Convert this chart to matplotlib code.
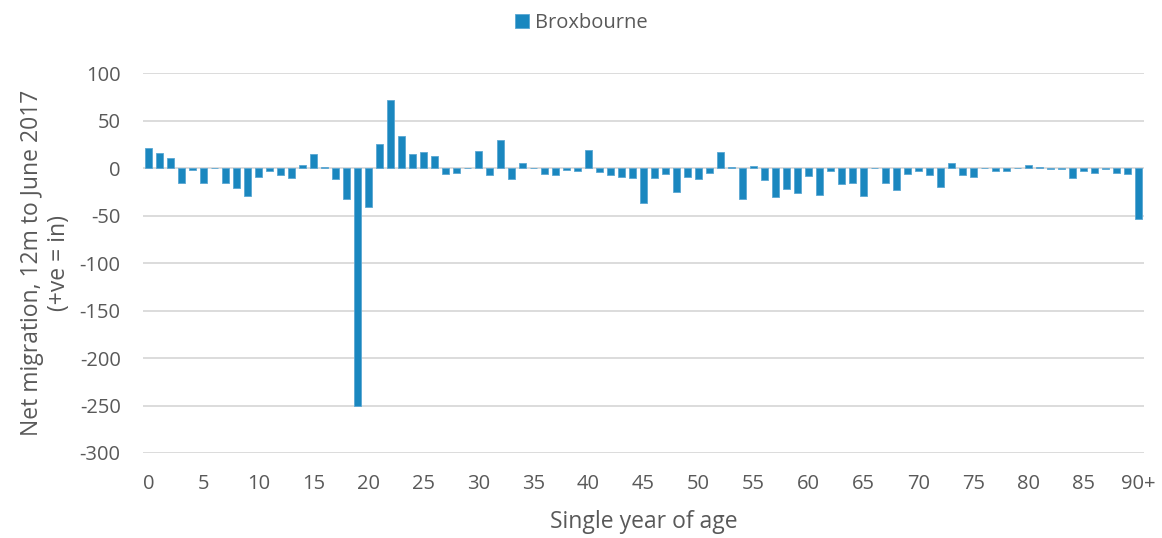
import numpy as np
import matplotlib.pyplot as plt

plt.rcParams['font.family'] = ['Open Sans', 'DejaVu Sans']
plt.rcParams['axes.unicode_minus'] = False

# Net migration by single year of age, Broxbourne
ages = list(range(91))
age_labels = [str(a) if a % 5 == 0 else "" for a in ages]
age_labels[90] = "90+"

net_migration = [
    21, 16, 11, -16, -2, -16, 0, -16, -21, -29,     # 0-9
    -9, -3, -7, -10, 3, 15, 1, -11, -33, -250,      # 10-19
    -41, 25, 72, 34, 15, 17, 13, -6, -5, 0,         # 20-29
    18, -7, 30, -11, 5, 0, -6, -7, -2, -3,          # 30-39
    19, -4, -7, -9, -10, -37, -10, -6, -25, -9,     # 40-49
    -11, -5, 17, 1, -32, 2, -12, -30, -22, -26,     # 50-59
    -8, -28, -3, -17, -16, -29, 0, -16, -23, -6,    # 60-69
    -3, -7, -20, 5, -7, -9, 0.5, -3, -3, 0,         # 70-79
    3, 1, -1, -1, -10, -3, -5, -1, -5, -6,          # 80-89
    -54,                                            # 90+
]

BAR_COLOUR = "#1A87BF"
GRID_COLOUR = "#D9D9D9"
TEXT_COLOUR = "#595959"

fig = plt.figure(figsize=(11.62, 5.38), dpi=100)
ax = fig.add_axes([0.123, 0.158, 0.8615, 0.706])

ax.bar(ages, net_migration, 0.65, color=BAR_COLOUR, edgecolor="#5AA7D3",
       linewidth=0.6, label="Broxbourne", zorder=3)

ax.set_xlim(-0.5, 90.5)
ax.set_ylim(-300, 100)
ax.set_yticks(np.arange(-300, 101, 50))
ax.set_xticks(ages)
ax.set_xticklabels(age_labels)
ax.tick_params(axis="both", length=0, labelsize=14.5, colors=TEXT_COLOUR)
ax.tick_params(axis="y", pad=16)
ax.tick_params(axis="x", pad=15)

ax.grid(axis="y", color=GRID_COLOUR, linewidth=1.3, zorder=0)
for s in ax.spines.values():
    s.set_visible(False)

ax.set_xlabel("Single year of age", fontsize=16.5, color=TEXT_COLOUR, labelpad=12)
ax.set_ylabel("Net migration, 12m to June 2017\n(+ve = in)", fontsize=16.5,
              color=TEXT_COLOUR, labelpad=6)

leg = fig.legend(loc="upper center", bbox_to_anchor=(0.5, 1.01), frameon=False,
                 fontsize=14.5, handlelength=0.7, handleheight=0.7, handletextpad=0.3)
for t in leg.get_texts():
    t.set_color(TEXT_COLOUR)

fig.savefig("out.png", dpi=100, facecolor="white")
